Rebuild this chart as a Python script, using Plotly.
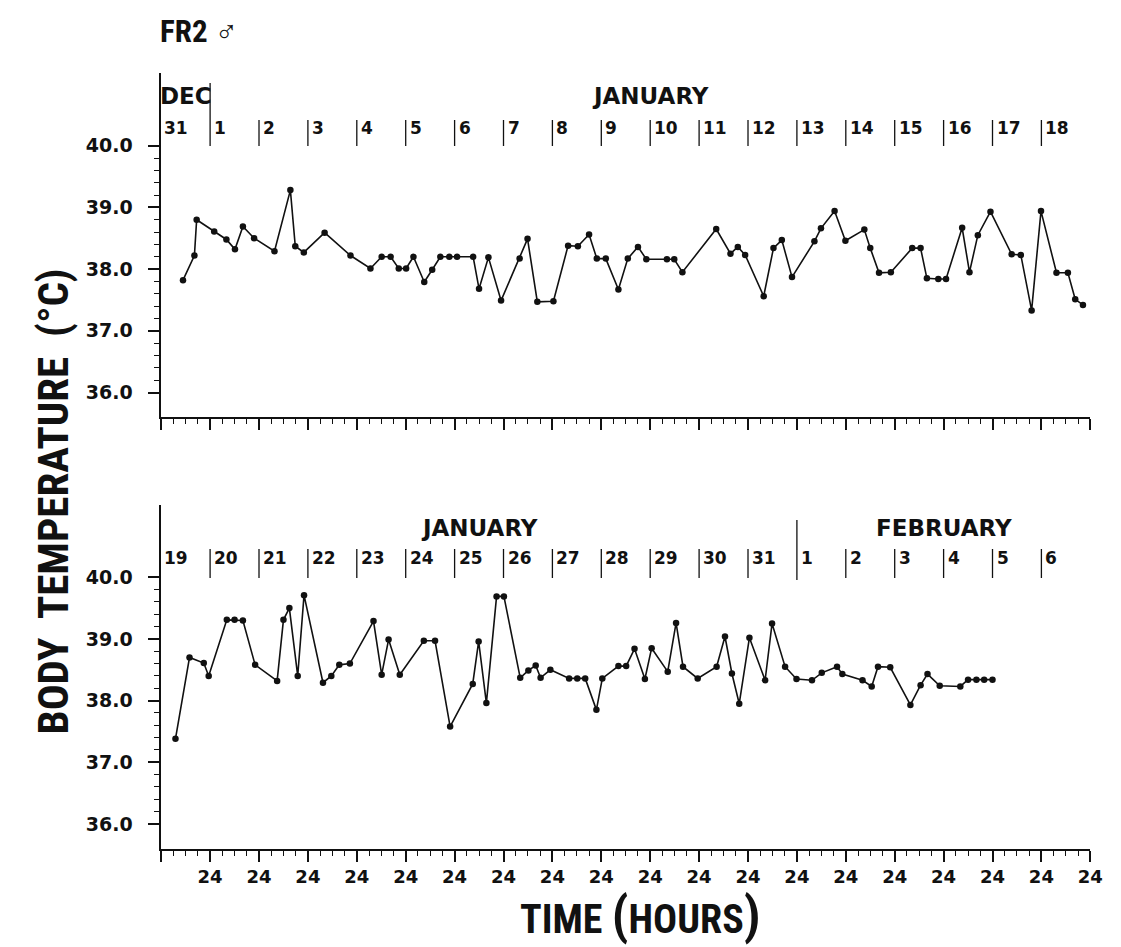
import subprocess
import plotly.graph_objects as go

W, H = 1121, 947

# ---------------- data (hours from start of each panel, body temperature in °C) ----------------
top_hours = [10.7, 16.3, 17.4, 26.0, 32.0, 36.2, 40.1, 45.6, 55.6, 63.4, 65.8, 70.0, 80.2, 92.9,
             102.7, 108.2, 112.6, 116.6, 120.2, 123.8, 129.1, 133.0, 137.0, 141.4, 145.2, 153.1,
             156.0, 160.6, 166.8, 175.9, 179.8, 184.6, 192.5, 199.7, 204.5, 210.0, 213.8, 218.2,
             224.4, 229.0, 234.0, 238.1, 248.2, 251.8, 255.8, 272.4, 279.4, 283.0, 286.6, 295.7,
             300.5, 304.6, 309.6, 320.6, 323.8, 330.5, 335.8, 345.1, 348.0, 352.3, 358.1, 368.6,
             372.7, 375.8, 381.4, 385.2, 393.1, 396.7, 400.8, 407.0, 417.4, 421.9, 427.2, 431.8,
             439.4, 445.0, 448.6, 452.4]
top_temp = [37.82, 38.22, 38.80, 38.61, 38.48, 38.32, 38.69, 38.50, 38.29, 39.28, 38.37, 38.27,
            38.59, 38.22, 38.01, 38.20, 38.20, 38.01, 38.01, 38.20, 37.79, 37.99, 38.20, 38.20,
            38.20, 38.20, 37.68, 38.19, 37.49, 38.17, 38.49, 37.47, 37.48, 38.38, 38.37, 38.56,
            38.17, 38.17, 37.67, 38.17, 38.36, 38.16, 38.16, 38.16, 37.95, 38.65, 38.25, 38.36,
            38.23, 37.56, 38.34, 38.47, 37.87, 38.45, 38.66, 38.94, 38.46, 38.64, 38.34, 37.94,
            37.95, 38.34, 38.34, 37.85, 37.84, 37.84, 38.67, 37.95, 38.55, 38.93, 38.24, 38.23,
            37.33, 38.94, 37.94, 37.94, 37.51, 37.42]

bottom_hours = [7.0, 13.9, 20.9, 23.3, 32.2, 36.0, 40.1, 46.1, 56.9, 60.0, 62.9, 67.0, 70.1,
                79.4, 83.5, 87.4, 92.6, 104.2, 108.2, 111.6, 117.1, 128.9, 134.4, 141.8, 152.9,
                155.8, 159.6, 164.6, 168.2, 176.2, 180.2, 183.8, 186.2, 191.0, 200.2, 204.2,
                208.1, 213.6, 216.5, 224.4, 228.2, 232.3, 237.4, 240.7, 248.6, 252.7, 256.1,
                263.3, 272.6, 276.7, 280.1, 283.7, 288.7, 296.4, 299.8, 306.2, 311.8, 319.4,
                324.2, 331.7, 334.3, 344.2, 348.7, 351.8, 357.8, 367.7, 372.7, 376.1, 382.1,
                392.2, 396.0, 400.1, 403.9, 408.0]
bottom_temp = [37.38, 38.70, 38.61, 38.40, 39.31, 39.31, 39.30, 38.58, 38.32, 39.31, 39.50,
               38.40, 39.71, 38.29, 38.40, 38.58, 38.60, 39.29, 38.42, 38.99, 38.42, 38.97,
               38.97, 37.58, 38.27, 38.96, 37.96, 39.69, 39.69, 38.37, 38.49, 38.57, 38.37,
               38.50, 38.36, 38.36, 38.36, 37.85, 38.36, 38.56, 38.56, 38.84, 38.35, 38.85,
               38.47, 39.26, 38.55, 38.36, 38.55, 39.04, 38.44, 37.95, 39.02, 38.33, 39.25,
               38.55, 38.35, 38.33, 38.45, 38.55, 38.43, 38.33, 38.23, 38.55, 38.54, 37.93,
               38.25, 38.43, 38.24, 38.23, 38.34, 38.34, 38.34, 38.34]

top_days = ["31"] + [str(d) for d in range(1, 19)]
bottom_days = [str(d) for d in range(19, 32)] + [str(d) for d in range(1, 7)]
top_months = ["DEC", "JANUARY"]
top_month_start_day = [0, 1]
bottom_months = ["JANUARY", "FEBRUARY"]
bottom_month_start_day = [0, 13]
n_days = 19
hour_label = "24"
temp_ticks = [36.0, 37.0, 38.0, 39.0, 40.0]

# ---------------- fonts ----------------
GEO = "DejaVu Sans"
try:
    _fams = subprocess.run(["fc-list", ":", "family"], capture_output=True,
                           text=True, timeout=10).stdout.lower()
except Exception:
    _fams = ""
# (family, y-title size, x-title size, FR2 size)
_cands = [("Roboto Condensed", 43, 40, 31), ("Liberation Sans Narrow", 43, 42, 31),
          ("DejaVu Sans Condensed", 36, 36, 27), ("Open Sans Condensed", 43, 40, 31)]
COND, YT_SIZE, XT_SIZE, FR_SIZE = "Roboto", 38, 34, 27
for fam, a, b, c in _cands:
    if fam.lower() in _fams:
        COND, YT_SIZE, XT_SIZE, FR_SIZE = fam, a, b, c
        break
BLACK = "#111111"


def py(px):
    return 1 - px / H


x_dom = [155 / W, 1095 / W]
top_dom = [py(409), py(65)]
bot_dom = [py(841), py(497)]
top_range = [35.603, 41.178]
bot_range = [35.594, 41.172]

major_x = [24 * k for k in range(n_days + 1)]
minor_x = [6 * k for k in range(4 * n_days + 1) if k % 4 != 0]
minor_y = [round(36 + 0.2 * i, 1) for i in range(21) if i % 5 != 0]

fig = go.Figure()
line_style = dict(color=BLACK, width=1.6)
marker_style = dict(color=BLACK, size=6.5, symbol="circle")
fig.add_trace(go.Scatter(x=top_hours, y=top_temp, mode="lines+markers", line=line_style,
                         marker=marker_style, xaxis="x", yaxis="y", showlegend=False))
fig.add_trace(go.Scatter(x=bottom_hours, y=bottom_temp, mode="lines+markers", line=line_style,
                         marker=marker_style, xaxis="x2", yaxis="y2", showlegend=False))


def xaxis(anchor, labels):
    return dict(domain=x_dom, range=[0, 24 * n_days], anchor=anchor, showgrid=False,
                zeroline=False, showline=True, linecolor=BLACK, linewidth=1.5,
                ticks="outside", tickmode="array", tickvals=major_x,
                ticktext=[""] + [hour_label] * n_days, ticklen=11, tickwidth=1.5,
                tickcolor=BLACK, showticklabels=labels,
                tickfont=dict(family=GEO, size=18, color=BLACK, weight="bold"),
                minor=dict(tickmode="array", tickvals=minor_x, ticks="outside", ticklen=5,
                           tickwidth=1.2, tickcolor=BLACK, showgrid=False))


def yaxis(anchor, dom, rng, side="left", overlay=None, labels=True):
    d = dict(range=rng, anchor=anchor, side=side, showgrid=False, zeroline=False,
             showline=True, linecolor=BLACK, linewidth=1.5, ticks="outside",
             tickmode="array", tickvals=temp_ticks, ticktext=[f"{v:.1f}" for v in temp_ticks],
             ticklen=11, tickwidth=1.5, tickcolor=BLACK, showticklabels=labels,
             ticklabelstandoff=12,
             tickfont=dict(family=GEO, size=19, color=BLACK, weight="bold"),
             minor=dict(tickmode="array", tickvals=minor_y, ticks="outside", ticklen=5,
                        tickwidth=1.2, tickcolor=BLACK, showgrid=False))
    if overlay:
        d["overlaying"] = overlay
    else:
        d["domain"] = dom
    return d


fig.update_layout(
    width=W, height=H, margin=dict(l=0, r=0, t=0, b=0),
    paper_bgcolor="white", plot_bgcolor="white",
    xaxis=xaxis("y", False),
    yaxis=yaxis("x", top_dom, top_range),
    xaxis2=xaxis("y2", True),
    yaxis2=yaxis("x2", bot_dom, bot_range),
    yaxis3=yaxis("x", top_dom, top_range, side="right", overlay="y", labels=False),
    yaxis4=yaxis("x2", bot_dom, bot_range, side="right", overlay="y2", labels=False),
)

annotations = []
shapes = []


def panel_labels(xref, days, months, month_start, day_y, bar_y, month_y, sep_y):
    for i, lab in enumerate(days):
        annotations.append(dict(x=24 * i, y=py(day_y), xref=xref, yref="paper", text=lab,
                                showarrow=False, xanchor="left", yanchor="middle",
                                xshift=2 if i else 1,
                                font=dict(family=GEO, size=17, color=BLACK, weight="bold")))
        if i > 0 and i not in month_start:
            shapes.append(dict(type="line", xref=xref, yref="paper", x0=24 * i, x1=24 * i,
                               y0=py(bar_y[0]), y1=py(bar_y[1]),
                               line=dict(color=BLACK, width=1.3)))
    for j, m in enumerate(months):
        s = month_start[j]
        e = month_start[j + 1] if j + 1 < len(months) else n_days
        annotations.append(dict(x=24 * (s + e) / 2, y=py(month_y), xref=xref, yref="paper",
                                text=m, showarrow=False, xanchor="center", yanchor="middle",
                                font=dict(family=GEO, size=23, color=BLACK, weight="bold")))
        if s > 0:
            shapes.append(dict(type="line", xref=xref, yref="paper", x0=24 * s, x1=24 * s,
                               y0=py(sep_y[0]), y1=py(sep_y[1]),
                               line=dict(color=BLACK, width=1.3)))


panel_labels("x", top_days, top_months, top_month_start_day, 120, (112, 138), 88, (75, 138))
panel_labels("x2", bottom_days, bottom_months, bottom_month_start_day, 550, (541, 570), 520,
             (512, 572))

annotations.append(dict(x=152 / W, y=py(24), xref="paper", yref="paper",
                        text="<b>FR2</b> <span style='font-size:%dpx'>♂</span>" % FR_SIZE,
                        showarrow=False, xanchor="left", yanchor="middle",
                        font=dict(family=COND, size=FR_SIZE, color=BLACK)))
annotations.append(dict(x=46 / W, y=py(493), xref="paper", yref="paper",
                        text="<b>BODY  TEMPERATURE  (°C)</b>", textangle=-90, showarrow=False,
                        xanchor="center", yanchor="middle",
                        font=dict(family=COND, size=YT_SIZE, color=BLACK)))
big = int(XT_SIZE * 1.3)
annotations.append(dict(x=640 / W, y=py(907), xref="paper", yref="paper",
                        text="<b>TIME <span style='font-size:%dpx'>(</span>HOURS"
                             "<span style='font-size:%dpx'>)</span></b>" % (big, big),
                        showarrow=False, xanchor="center", yanchor="middle",
                        font=dict(family=COND, size=XT_SIZE, color=BLACK)))

fig.update_layout(annotations=annotations, shapes=shapes)
fig.write_html("out.html")
